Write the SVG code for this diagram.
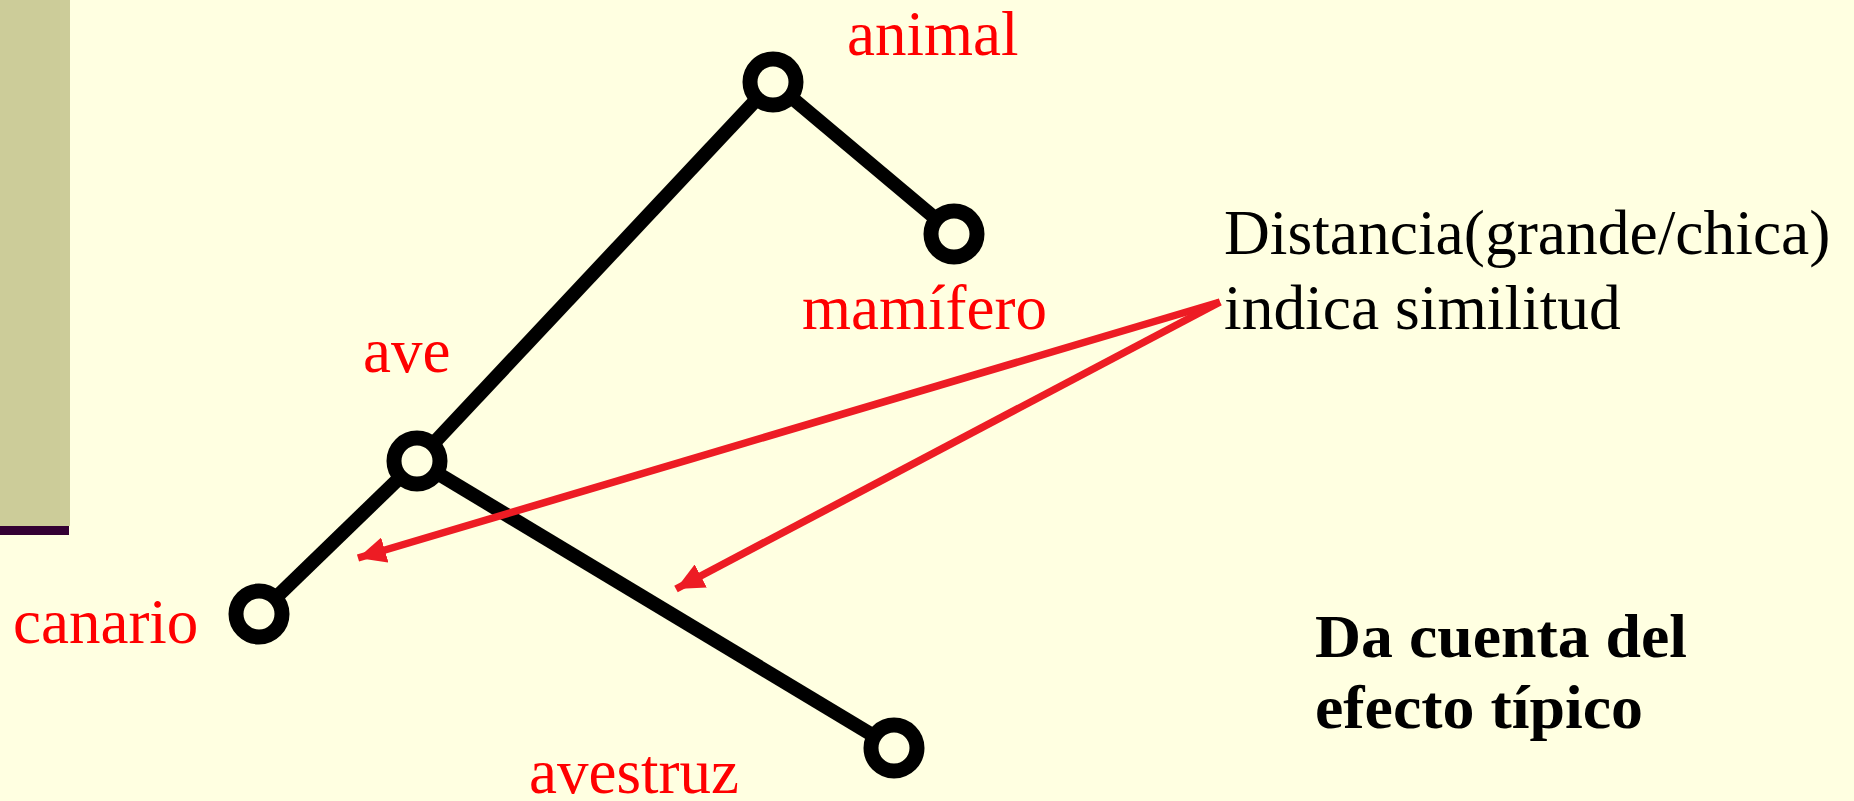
<svg xmlns="http://www.w3.org/2000/svg" width="1854" height="801" viewBox="0 0 1854 801">
<style>
.lbl{font-family:"Liberation Serif","Times New Roman",serif;font-size:63px;fill:#FF0000}
.txt{font-family:"Liberation Serif","Times New Roman",serif;font-size:63.5px;fill:#000000}
.bold{font-family:"Liberation Serif","Times New Roman",serif;font-size:62px;font-weight:bold;fill:#000000}
.edge{stroke:#000000;stroke-width:14;fill:none}
.node{fill:#FFFFE1;stroke:#000000;stroke-width:15}
.arrow{stroke:#ED1C24;stroke-width:7.5;fill:none}
</style>
<defs>
<marker id="ah" markerUnits="userSpaceOnUse" markerWidth="30" markerHeight="26" refX="28" refY="13" orient="auto">
<path d="M0,0 L28,13 L0,26 Z" fill="#ED1C24"/>
</marker>
</defs>
<rect x="0" y="0" width="1854" height="801" fill="#FFFFE1"/>
<rect x="0" y="0" width="70" height="526" fill="#CCCC99"/>
<rect x="0" y="526" width="69" height="9" fill="#330033"/>
<g id="connectors">
<line class="edge" x1="773" y1="82" x2="417" y2="461"/>
<line class="edge" x1="773" y1="82" x2="954" y2="234"/>
<line class="edge" x1="417" y1="461" x2="259" y2="614"/>
<line class="edge" x1="417" y1="461" x2="894" y2="748"/>
<line class="arrow" x1="1220" y1="302" x2="358" y2="558" marker-end="url(#ah)"/>
<line class="arrow" x1="1220" y1="302" x2="676" y2="589" marker-end="url(#ah)"/>
</g>
<g id="animal"><circle class="node" cx="773" cy="82" r="23"/><text class="lbl" x="847" y="55">animal</text></g>
<g id="mamifero"><circle class="node" cx="954" cy="234" r="23"/><text class="lbl" x="802" y="329">mamífero</text></g>
<g id="ave"><circle class="node" cx="417" cy="461" r="23"/><text class="lbl" x="363" y="372">ave</text></g>
<g id="canario"><circle class="node" cx="259" cy="614" r="23"/><text class="lbl" x="13" y="643">canario</text></g>
<g id="avestruz"><circle class="node" cx="894" cy="748" r="23"/><text class="lbl" x="529" y="793">avestruz</text></g>
<g id="nota-distancia">
<text class="txt" x="1224" y="254">Distancia(grande/chica)</text>
<text class="txt" x="1224" y="329">indica similitud</text>
</g>
<g id="nota-efecto">
<text class="bold" x="1315" y="657" textLength="372" lengthAdjust="spacingAndGlyphs">Da cuenta del</text>
<text class="bold" x="1315" y="728" textLength="328" lengthAdjust="spacingAndGlyphs">efecto típico</text>
</g>
</svg>
